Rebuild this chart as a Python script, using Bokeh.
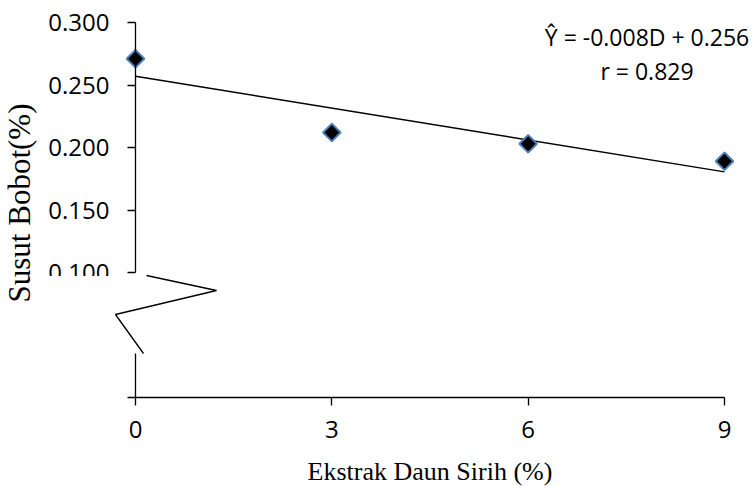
import numpy as np
from bokeh.plotting import figure
from bokeh.models import Range1d, FixedTicker, NumeralTickFormatter, Label, BoxAnnotation
from bokeh.embed import file_html
from bokeh.resources import INLINE

# ---- data ----
ekstrak = [0, 3, 6, 9]                      # Ekstrak Daun Sirih (%)
susut = [0.271, 0.212, 0.203, 0.189]        # Susut Bobot (%)
x_ticks = [0, 3, 6, 9]
y_ticks = [0.100, 0.150, 0.200, 0.250, 0.300]
equation = "Ŷ = -0.008D + 0.256"
r_text = "r = 0.829"
x_title = "Ekstrak Daun Sirih (%)"
y_title = "Susut Bobot(%)"

# axis-break zigzag decoration (data coordinates)
break_x = [0.168, 1.238, -0.306, 0.122]
break_y = [0.0976, 0.0856, 0.0664, 0.0352]

# linear trend line fitted to the data
slope, intercept = np.polyfit(ekstrak, susut, 1)
fit_x = [min(ekstrak), max(ekstrak)]
fit_y = [intercept + slope * v for v in fit_x]

TICK_FONT = "Open Sans"
TITLE_FONT = "Liberation Serif"

p = figure(width=755, height=486, output_backend="svg", toolbar_location=None,
           x_range=Range1d(-2.0628, 9.4737), y_range=Range1d(-0.0712, 0.3176),
           min_border_left=0, min_border_right=0, min_border_top=0,
           min_border_bottom=0)
p.outline_line_color = None
p.xgrid.visible = False
p.ygrid.visible = False
p.background_fill_color = "white"
p.border_fill_color = "white"

# y axis placed at x = 0, upper part (above the break)
ya = p.yaxis[0]
ya.fixed_location = 0
ya.bounds = (y_ticks[0], y_ticks[-1])
ya.ticker = FixedTicker(ticks=y_ticks)
ya.formatter = NumeralTickFormatter(format="0.000")
ya.axis_line_width = 1.3
ya.axis_line_color = "black"
ya.major_tick_line_width = 1.3
ya.major_tick_line_color = "black"
ya.minor_tick_line_color = None
ya.major_tick_out = 8
ya.major_tick_in = 0
ya.major_label_standoff = 18
ya.major_label_text_font = TICK_FONT
ya.major_label_text_font_size = "24px"
ya.major_label_text_color = "black"

# x axis placed at y = 0
xa = p.xaxis[0]
xa.fixed_location = 0
xa.ticker = FixedTicker(ticks=x_ticks)
xa.bounds = (min(x_ticks), max(x_ticks))
xa.axis_line_width = 1.3
xa.axis_line_color = "black"
xa.major_tick_line_width = 1.3
xa.major_tick_line_color = "black"
xa.minor_tick_line_color = None
xa.major_tick_out = 8
xa.major_tick_in = 0
xa.major_label_standoff = 15
xa.major_label_text_font = TICK_FONT
xa.major_label_text_font_size = "24px"
xa.major_label_text_color = "black"

# lower part of the y axis (below the break) with its tick at 0
p.segment(x0=[0], y0=[0], x1=[0], y1=[break_y[-1]], line_color="black", line_width=1.3)
p.ray(x=[0], y=[0], length=8, length_units="screen", angle=np.pi,
      line_color="black", line_width=1.3)

# white patch hiding the lower part of the 0.100 label (axis break)
p.add_layout(BoxAnnotation(left=-1.452, right=-0.3514, bottom=0.06, top=0.0972,
                           fill_color="white", fill_alpha=1.0, line_color=None))

# zigzag break
p.line(break_x, break_y, line_color="black", line_width=1.3)

# trend line
p.line(fit_x, fit_y, line_color="black", line_width=1.5)

# data points
p.scatter(ekstrak, susut, marker="square", size=12.5, angle=np.pi / 4,
          fill_color="black", line_color="#4f81bd", line_width=2)

# regression annotation
p.add_layout(Label(x=7.816, y=0.2884, text=equation, text_align="center",
                   text_baseline="middle", text_font=TICK_FONT,
                   text_font_size="23px", text_color="black"))
p.add_layout(Label(x=7.816, y=0.2616, text=r_text, text_align="center",
                   text_baseline="middle", text_font=TICK_FONT,
                   text_font_size="23px", text_color="black"))

# axis titles
p.add_layout(Label(x=(min(x_ticks) + max(x_ticks)) / 2, y=-0.0594, text=x_title,
                   text_align="center", text_baseline="middle",
                   text_font=TITLE_FONT, text_font_size="26px", text_color="black"))
p.add_layout(Label(x=-1.765, y=0.1556, text=y_title, angle=np.pi / 2,
                   text_align="center", text_baseline="middle",
                   text_font=TITLE_FONT, text_font_size="31px", text_color="black"))

open("out.html", "w").write(file_html(p, INLINE))
